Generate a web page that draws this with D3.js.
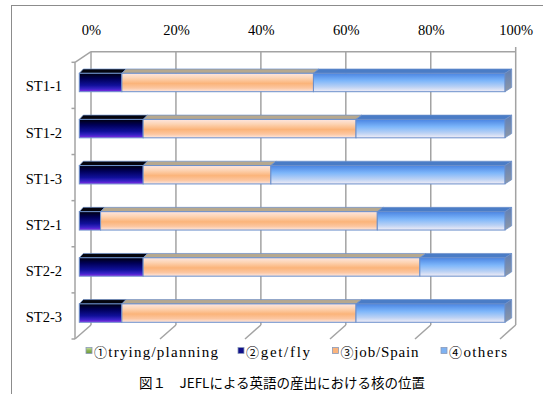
<!DOCTYPE html>
<html><head><meta charset="utf-8">
<script src="https://cdn.jsdelivr.net/npm/d3@7"></script>
<style>
html,body{margin:0;padding:0;background:#fff;}
svg{display:block;}
</style></head>
<body>
<script>
// ---- data ----
const categories = ["ST1-1","ST1-2","ST1-3","ST2-1","ST2-2","ST2-3"];
const seriesNames = ["①trying/planning","②get/fly","③job/Spain","④others"];
const tryingPlanning = [0,0,0,0,0,0];
const getFly = [10,15,15,5,15,10];
const jobSpain = [45,50,30,65,65,55];
const others = [45,35,55,30,20,35];
const tickValues = [0,20,40,60,80,100];
const titleText = "図１　JEFLによる英語の産出における核の位置";

// ---- layout ----
const W = 543, H = 394;
const svg = d3.select("body").append("svg").attr("width", W).attr("height", H);

// frame
svg.append("rect").attr("x",11.5).attr("y",5.5).attr("width",560).attr("height",420)
  .attr("fill","none").attr("stroke","#8c8c8c").attr("stroke-width",1);

const defs = svg.append("defs");
function vgrad(id, stops){
  const g = defs.append("linearGradient").attr("id",id).attr("x1",0).attr("y1",0).attr("x2",0).attr("y2",1);
  stops.forEach(s=>g.append("stop").attr("offset",s[0]).attr("stop-color",s[1]));
}
vgrad("gDark",[[0,"#000010"],[0.3,"#000058"],[0.65,"#10109a"],[0.85,"#3a24c8"],[1,"#8a2ae6"]]);
vgrad("gOrange",[[0,"#fde6e0"],[0.25,"#fdd4b4"],[0.55,"#fbb47a"],[0.8,"#fcc6a0"],[1,"#fde8e2"]]);
vgrad("gBlue",[[0,"#4a84e2"],[0.4,"#7db6fa"],[0.75,"#bcd2f4"],[1,"#f2eef6"]]);
vgrad("gGreen",[[0,"#c8e0a0"],[0.5,"#8db455"],[1,"#6c963a"]]);
vgrad("gSide",[[0,"#5f7fb6"],[1,"#8d98a8"]]);

const frontFill = ["url(#gGreen)","url(#gDark)","url(#gOrange)","url(#gBlue)"];
const topFill = ["#6f8f3f","#05050e","#b6a88e","#4a7cc6"];
const swatchFill = ["url(#gGreen)","#10108a","#fbb47c","#7eb2f2"];

// scales
const xBack = d3.scaleLinear().domain([0,100]).range([91,515.7]);
const xFront = d3.scaleLinear().domain([0,100]).range([75,500]);
const xBarF = d3.scaleLinear().domain([0,100]).range([79.3,505]);
const xBarB = d3.scaleLinear().domain([0,100]).range([83.3,511.7]);
const yBand = d3.scaleBand().domain(categories).range([62.3,339]);
const backTop = 51.7, backBottom = 325, frontBottom = 339;
const barOffset = 11, barH = 18.4, barDy = -4.3;

const grid = "#a3a3a3";
svg.append("g").selectAll("line").data(tickValues).join("line")
  .attr("x1",d=>xBack(d)).attr("x2",d=>xBack(d))
  .attr("y1",d=>d===100?47:backTop).attr("y2",backBottom)
  .attr("stroke",grid).attr("stroke-width",1.5);
svg.append("line").attr("x1",xBack(0)).attr("x2",xBack(100)).attr("y1",backTop).attr("y2",backTop)
  .attr("stroke",grid).attr("stroke-width",1.5);
svg.append("g").selectAll("line").data(tickValues).join("line")
  .attr("x1",d=>xBack(d)).attr("y1",backBottom)
  .attr("x2",d=>xFront(d)).attr("y2",frontBottom)
  .attr("stroke",grid).attr("stroke-width",1.5);
svg.append("line").attr("x1",xBack(0)).attr("y1",backTop).attr("x2",xFront(0)).attr("y2",yBand.range()[0])
  .attr("stroke",grid).attr("stroke-width",1.5);
svg.append("line").attr("x1",xFront(0)).attr("x2",xFront(0)).attr("y1",yBand.range()[0]).attr("y2",frontBottom)
  .attr("stroke",grid).attr("stroke-width",1.5);
const bounds = categories.map(c=>yBand(c)).concat([yBand.range()[1]]);
svg.append("g").selectAll("line").data(bounds).join("line")
  .attr("x1",xFront(0)-3.5).attr("x2",xFront(0)).attr("y1",d=>d).attr("y2",d=>d)
  .attr("stroke",grid).attr("stroke-width",1.5);

// top axis labels
const xAxis = d3.axisTop(xBack).tickValues(tickValues).tickFormat(d=>d+"%").tickSize(0).tickPadding(0);
const gx = svg.append("g").attr("transform","translate(0,35)").call(xAxis);
gx.select(".domain").remove();
gx.selectAll("text").attr("font-family","'Liberation Serif',serif").attr("font-size",14.5)
  .attr("fill","#000");

// left axis labels
const yAxis = d3.axisLeft(yBand).tickSize(0).tickPadding(13);
const gy = svg.append("g").attr("transform","translate("+xFront(0)+",0)").call(yAxis);
gy.select(".domain").remove();
gy.selectAll("text").attr("font-family","'Liberation Serif',serif").attr("font-size",14.5)
  .attr("fill","#000").attr("dy","0.42em");

// stacked bars
const rows = categories.map((c,i)=>({cat:c, v:[tryingPlanning[i],getFly[i],jobSpain[i],others[i]]}));
const stroke = "#6b8fcb";
rows.forEach(r=>{
  const y0 = yBand(r.cat)+barOffset;
  let acc = 0;
  const segs = r.v.map((v,k)=>{const s={a:acc,b:acc+v,k}; acc+=v; return s;});
  const g = svg.append("g");
  segs.filter(s=>s.b>s.a).forEach(s=>{
    g.append("path")
      .attr("d",`M${xBarF(s.a)},${y0}L${xBarF(s.b)},${y0}L${xBarB(s.b)},${y0+barDy}L${xBarB(s.a)},${y0+barDy}Z`)
      .attr("fill",topFill[s.k]).attr("stroke",stroke).attr("stroke-width",0.7);
    g.append("rect").attr("x",xBarF(s.a)).attr("y",y0).attr("width",xBarF(s.b)-xBarF(s.a)).attr("height",barH)
      .attr("fill",frontFill[s.k]).attr("stroke",stroke).attr("stroke-width",1);
  });
  const end = acc;
  g.append("path")
    .attr("d",`M${xBarF(end)},${y0}L${xBarB(end)},${y0+barDy}L${xBarB(end)},${y0+barH+barDy}L${xBarF(end)},${y0+barH}Z`)
    .attr("fill","url(#gSide)").attr("stroke",stroke).attr("stroke-width",0.7);
});

// legend
const legendSwatchX = [86, 238, 332.5, 441];
const legendTextW = [124, 64, 78, 58];
const lg = svg.append("g");
seriesNames.forEach((n,i)=>{
  lg.append("rect").attr("x",legendSwatchX[i]).attr("y",347.5).attr("width",6).attr("height",6)
    .attr("fill",swatchFill[i]).attr("stroke","#8a9ab8").attr("stroke-width",0.8);
  const t = lg.append("text").attr("x",legendSwatchX[i]+8).attr("y",357)
    .attr("font-size",15).attr("fill","#000")
    .attr("textLength",legendTextW[i]).attr("lengthAdjust","spacing");
  t.append("tspan").attr("font-family","'Noto Sans CJK JP',sans-serif").attr("font-size",13).text(n.slice(0,1));
  t.append("tspan").attr("font-family","'Liberation Serif',serif").text(n.slice(1));
});

// title
svg.append("text").attr("x",282).attr("y",387.5).attr("text-anchor","middle")
  .attr("font-family","'Noto Sans CJK JP',sans-serif").attr("font-size",13.5).attr("fill","#000")
  .text(titleText);
</script>
</body></html>
